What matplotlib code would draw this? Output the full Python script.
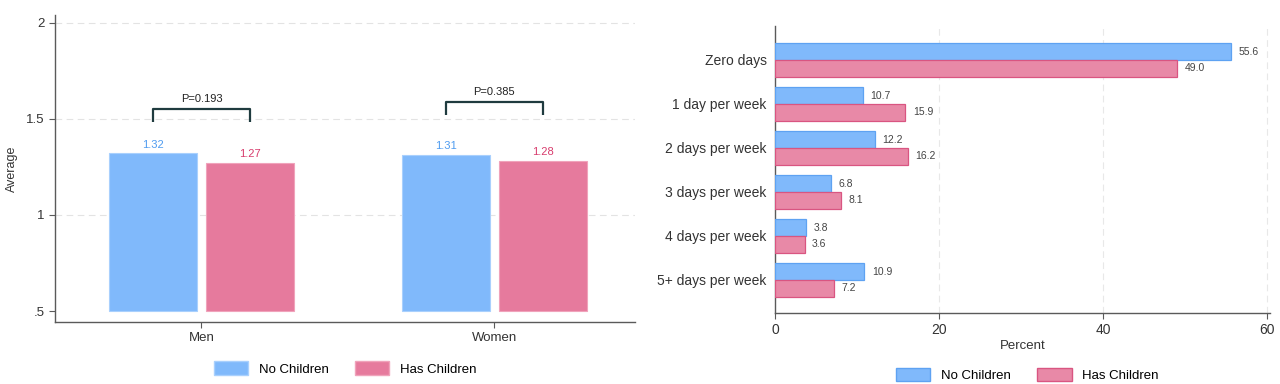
import matplotlib

matplotlib.use("Agg")
import matplotlib.pyplot as plt
import numpy as np
from matplotlib.patches import Patch

plt.rcParams["font.family"] = ["Liberation Sans", "DejaVu Sans"]

# Левая панель: средние по полу
groups = ["Men", "Women"]
avg_no_children = [1.32, 1.31]
avg_has_children = [1.27, 1.28]
p_values = ["P=0.193", "P=0.385"]

# Правая панель: распределение по дням
day_cats = ["Zero days", "1 day per week", "2 days per week",
            "3 days per week", "4 days per week", "5+ days per week"]
pct_no_children = [55.6, 10.7, 12.2, 6.8, 3.8, 10.9]
pct_has_children = [49.0, 15.9, 16.2, 8.1, 3.6, 7.2]

BLUE = "#80b9fb"
PINK = "#e67a9d"
BLUE_TXT = "#4f9cf0"
PINK_TXT = "#d83c6d"
SPINE = "#5a5a5a"
BRACKET = "#1f3b3f"

fig = plt.figure(figsize=(12.8, 3.84), dpi=100)

# ---- левая панель ----
ax1 = fig.add_axes([0.043, 0.1615, 0.453, 0.7995])
x = np.arange(len(groups))
w = 0.30
off = 0.165
ax1.bar(x - off, np.array(avg_no_children) - 0.5, w, bottom=0.5, color=BLUE,
        edgecolor="#a9d0fd", linewidth=0.8, zorder=3)
ax1.bar(x + off, np.array(avg_has_children) - 0.5, w, bottom=0.5, color=PINK,
        edgecolor="#f0a3bb", linewidth=0.8, zorder=3)
for i in range(len(groups)):
    ax1.text(x[i] - off, avg_no_children[i] + 0.02, f"{avg_no_children[i]:.2f}",
             ha="center", va="bottom", fontsize=8, color=BLUE_TXT)
    ax1.text(x[i] + off, avg_has_children[i] + 0.02, f"{avg_has_children[i]:.2f}",
             ha="center", va="bottom", fontsize=8, color=PINK_TXT)

# скобки с p-value
brackets = [(1.552, 1.484), (1.589, 1.521)]
for i, (top, leg) in enumerate(brackets):
    xl, xr = x[i] - off, x[i] + off
    ax1.plot([xl, xl, xr, xr], [leg, top, top, leg], color=BRACKET, lw=1.6,
             zorder=4, solid_capstyle="butt")
    ax1.text(x[i], top + 0.025, p_values[i], ha="center", va="bottom",
             fontsize=8, color="#222222")

ax1.set_xlim(-0.5, 1.48)
ax1.set_ylim(0.443, 2.04)
ax1.set_yticks([0.5, 1, 1.5, 2])
ax1.set_yticklabels([".5", "1", "1.5", "2"])
ax1.set_xticks(x)
ax1.set_xticklabels(groups)
ax1.set_ylabel("Average", fontsize=9, color="#333333", labelpad=6)
for yv in [1, 1.5, 2]:
    ax1.axhline(yv, color="#e3e3e3", lw=0.8, ls=(0, (6, 4)), zorder=1)
for s in ["top", "right"]:
    ax1.spines[s].set_visible(False)
for s in ["left", "bottom"]:
    ax1.spines[s].set_color(SPINE)
    ax1.spines[s].set_linewidth(1.0)
ax1.tick_params(axis="both", labelsize=9.5, colors="#333333", length=4,
                width=0.8, color=SPINE)
ax1.legend(handles=[Patch(facecolor=BLUE, edgecolor="#a9d0fd", label="No Children"),
                    Patch(facecolor=PINK, edgecolor="#f0a3bb", label="Has Children")],
           loc="upper center", bbox_to_anchor=(0.5, -0.09), ncol=2, frameon=False,
           fontsize=9.5, handlelength=2.6, handleheight=1.2, columnspacing=2.0)

# ---- правая панель ----
ax2 = fig.add_axes([0.6055, 0.185, 0.3865, 0.747])
y = np.arange(len(day_cats))
h = 0.375
yo = 0.19
ax2.barh(y - yo, pct_no_children, h, color=BLUE, edgecolor="#5ea2f2",
         linewidth=0.9, zorder=3)
ax2.barh(y + yo, pct_has_children, h, color="#e889a7", edgecolor="#d95581",
         linewidth=0.9, zorder=3)
for i in range(len(day_cats)):
    ax2.text(pct_no_children[i] + 0.9, y[i] - yo, f"{pct_no_children[i]:.1f}",
             va="center", ha="left", fontsize=7.5, color="#444444")
    ax2.text(pct_has_children[i] + 0.9, y[i] + yo, f"{pct_has_children[i]:.1f}",
             va="center", ha="left", fontsize=7.5, color="#444444")
ax2.set_yticks(y)
ax2.set_yticklabels(day_cats)
ax2.set_ylim(5.75, -0.77)
ax2.set_xlim(0, 60.3)
ax2.set_xticks([0, 20, 40, 60])
ax2.set_xlabel("Percent", fontsize=9.5, color="#333333", labelpad=2)
for xv in [20, 40, 60]:
    ax2.axvline(xv, color="#e8e8e8", lw=0.8, ls=(0, (6, 4)), zorder=1)
for s in ["top", "right"]:
    ax2.spines[s].set_visible(False)
for s in ["left", "bottom"]:
    ax2.spines[s].set_color(SPINE)
    ax2.spines[s].set_linewidth(1.0)
ax2.tick_params(axis="y", length=0, labelsize=10, colors="#333333", pad=6)
ax2.tick_params(axis="x", length=4, width=0.8, color=SPINE, labelsize=10,
                colors="#333333")
ax2.legend(handles=[Patch(facecolor=BLUE, edgecolor="#5ea2f2", label="No Children"),
                    Patch(facecolor="#e889a7", edgecolor="#d95581", label="Has Children")],
           loc="upper center", bbox_to_anchor=(0.51, -0.15), ncol=2, frameon=False,
           fontsize=9.5, handlelength=2.6, handleheight=1.2, columnspacing=2.0)

fig.savefig("out.png", dpi=100)
